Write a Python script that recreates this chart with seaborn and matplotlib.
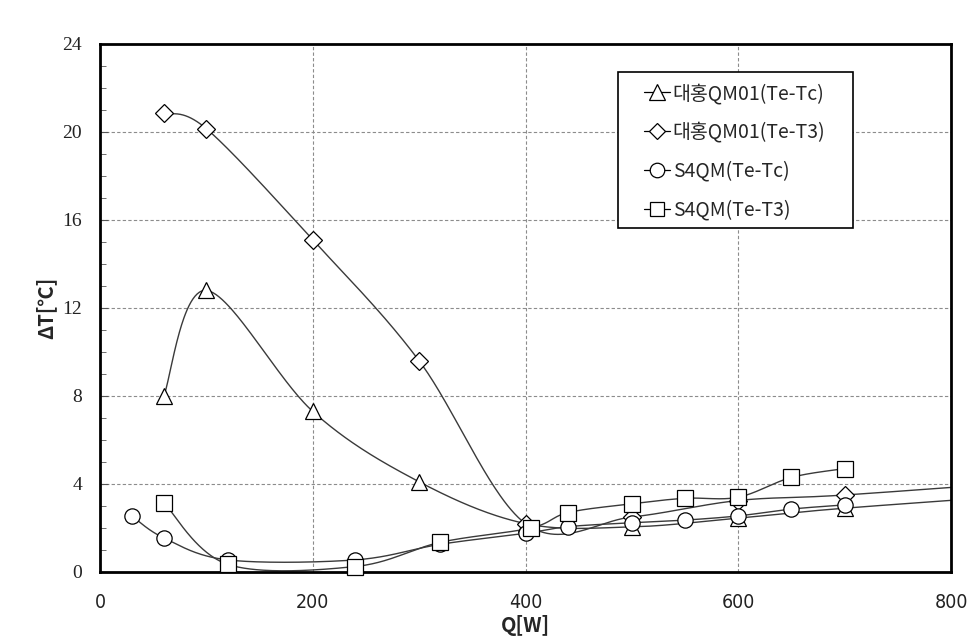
import numpy as np
import matplotlib
matplotlib.use("Agg")
import matplotlib.pyplot as plt
from matplotlib.lines import Line2D
from matplotlib.patches import Rectangle
import seaborn as sns

# ---------------- data ----------------
labels = ["대홍QM01(Te-Tc)", "대홍QM01(Te-T3)", "S4QM(Te-Tc)", "S4QM(Te-T3)"]

# 대홍QM01 (Te-Tc) – last point lies beyond the 800 W axis limit
dh_tc_x = [60, 100, 200, 300, 400, 500, 600, 700, 900]
dh_tc_y = [8.0, 12.8, 7.3, 4.1, 2.2, 2.05, 2.45, 2.9, 3.6]

# 대홍QM01 (Te-T3) – last point lies beyond the 800 W axis limit
dh_t3_x = [60, 100, 200, 300, 400, 500, 600, 700, 900]
dh_t3_y = [20.85, 20.15, 15.1, 9.6, 2.2, 2.5, 3.25, 3.5, 4.2]

# S4QM (Te-Tc)
s4_tc_x = [30, 60, 120, 240, 320, 400, 440, 500, 550, 600, 650, 700]
s4_tc_y = [2.55, 1.55, 0.55, 0.55, 1.26, 1.76, 2.06, 2.24, 2.36, 2.55, 2.86, 3.05]

# S4QM (Te-T3)
s4_t3_x = [60, 120, 240, 320, 405, 440, 500, 550, 600, 650, 700]
s4_t3_y = [3.15, 0.35, 0.25, 1.35, 2.0, 2.7, 3.1, 3.35, 3.4, 4.3, 4.7]

x_ticks = [0, 200, 400, 600, 800]
y_ticks = [0, 4, 8, 12, 16, 20, 24]


def excel_smooth(xs, ys, n=60):
    """Excel-style smoothed line (Catmull-Rom -> cubic Bezier)."""
    pts = np.column_stack([xs, ys]).astype(float)
    out = []
    for i in range(len(pts) - 1):
        p0 = pts[i - 1] if i > 0 else pts[i]
        p1, p2 = pts[i], pts[i + 1]
        p3 = pts[i + 2] if i + 2 < len(pts) else pts[i + 1]
        c1 = p1 + (p2 - p0) / 6.0
        c2 = p2 - (p3 - p1) / 6.0
        t = np.linspace(0, 1, n)[:, None]
        seg = ((1 - t) ** 3) * p1 + 3 * ((1 - t) ** 2) * t * c1 + 3 * (1 - t) * (t ** 2) * c2 + (t ** 3) * p2
        out.append(seg if i == 0 else seg[1:])
    return np.vstack(out)


sns.set_theme(style="white")
plt.rcParams["font.family"] = ["Noto Sans CJK KR", "DejaVu Sans"]

W, H = 976, 638
fig = plt.figure(figsize=(W / 100, H / 100), dpi=100)
ax = fig.add_axes([100 / W, 1 - 572 / H, 851 / W, 528 / H])

series = [
    (dh_tc_x, dh_tc_y, "^", 12),
    (dh_t3_x, dh_t3_y, "D", 9),
    (s4_tc_x, s4_tc_y, "o", 11),
    (s4_t3_x, s4_t3_y, "s", 11),
]

line_color = "#3a3a3a"
handles = []
for (xs, ys, mk, ms), lab in zip(series, labels):
    curve = excel_smooth(xs, ys)
    sns.lineplot(x=curve[:, 0], y=curve[:, 1], sort=False, estimator=None,
                 color=line_color, linewidth=1.0, ax=ax, zorder=2)
    xv = [x for x in xs if x <= 800]
    yv = [y for x, y in zip(xs, ys) if x <= 800]
    ax.plot(xv, yv, linestyle="none", marker=mk, markersize=ms,
            markerfacecolor="white", markeredgecolor="black",
            markeredgewidth=0.9, zorder=3, clip_on=False)
    handles.append(Line2D([0], [0], color="black", linewidth=0.9, marker=mk,
                          markersize=ms * 0.95, markerfacecolor="white",
                          markeredgecolor="black", markeredgewidth=0.9))

ax.set_xlim(0, 800)
ax.set_ylim(0, 24)
ax.set_xticks(x_ticks)
ax.set_yticks(y_ticks)
ax.set_yticks(np.arange(0, 25, 1), minor=True)

ax.grid(True, which="major", linestyle=(0, (3, 2)), color="#8c8c8c", linewidth=0.8)
ax.set_axisbelow(True)
for s in ax.spines.values():
    s.set_color("black")
    s.set_linewidth(2.0)

ax.tick_params(axis="y", which="major", direction="in", length=6, width=0.8,
               color="#555555", left=True, pad=13)
ax.tick_params(axis="y", which="minor", direction="in", length=4, width=0.6,
               color="#555555", left=True)
ax.tick_params(axis="x", which="major", direction="in", length=0, pad=15)

for lbl in ax.get_yticklabels():
    lbl.set_family(["Liberation Serif", "DejaVu Serif"])
    lbl.set_fontsize(14)
    lbl.set_color("#222222")
for lbl in ax.get_xticklabels():
    lbl.set_family(["Liberation Sans Narrow", "DejaVu Sans"])
    lbl.set_stretch("condensed")
    lbl.set_fontsize(14)
    lbl.set_color("#222222")

ax.set_xlabel("Q[W]", fontsize=14.5, fontweight="bold", labelpad=2,
              family=["Noto Sans CJK KR", "DejaVu Sans"])
ax.set_ylabel("ΔT[℃]", fontsize=14.5, fontweight="bold", labelpad=4,
              family=["Noto Sans CJK KR", "DejaVu Sans"])

# legend frame drawn as a separate box (reference box proportions)
ax.add_patch(Rectangle(((618 - 100) / 851, (572 - 228) / 528),
                       (853 - 618) / 851, (228 - 72) / 528,
                       transform=ax.transAxes, facecolor="white",
                       edgecolor="black", linewidth=1.2, zorder=4))

leg = ax.legend(handles, labels, loc="upper left",
                bbox_to_anchor=((644 - 100) / 851, (572 - 83) / 528),
                frameon=False, fontsize=14, labelspacing=0.92,
                handlelength=1.35, handletextpad=0.12, borderpad=0,
                borderaxespad=0)
leg.set_zorder(5)
for t in leg.get_texts():
    t.set_family(["Noto Sans CJK KR", "DejaVu Sans"])

fig.savefig("out.png", dpi=100)
